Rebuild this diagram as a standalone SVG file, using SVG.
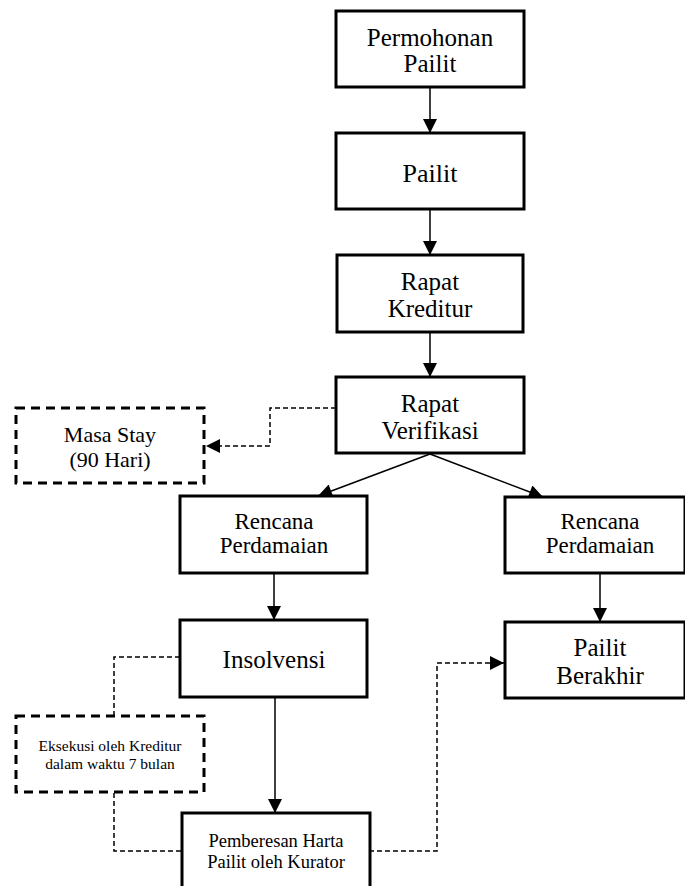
<svg xmlns="http://www.w3.org/2000/svg" width="685" height="886" viewBox="0 0 685 886">
<style>
.box{fill:#fff;stroke:#000;stroke-width:3}
.dbox{fill:#fff;stroke:#000;stroke-width:3;stroke-dasharray:9 6}
.t{font-family:"Liberation Serif","Times New Roman",serif;fill:#000;text-anchor:middle}
.c{fill:none;stroke:#000;stroke-width:1.5}
.d{fill:none;stroke:#000;stroke-width:1.5;stroke-dasharray:5 3}
</style>
<defs>
<marker id="ah" viewBox="0 0 10 10" refX="10" refY="5" markerWidth="15" markerHeight="14" markerUnits="userSpaceOnUse" orient="auto">
<path d="M0,0 L10,5 L0,10 z" fill="#000"/>
</marker>
</defs>
<g id="connectors">
<line class="c" x1="430" y1="87" x2="430" y2="133" marker-end="url(#ah)"/>
<line class="c" x1="430" y1="209" x2="430" y2="255" marker-end="url(#ah)"/>
<line class="c" x1="430" y1="332" x2="430" y2="377" marker-end="url(#ah)"/>
<line class="c" x1="430" y1="454" x2="318" y2="496" marker-end="url(#ah)"/>
<line class="c" x1="430" y1="454" x2="543" y2="497" marker-end="url(#ah)"/>
<line class="c" x1="274" y1="573" x2="274" y2="620" marker-end="url(#ah)"/>
<line class="c" x1="600" y1="574" x2="600" y2="622" marker-end="url(#ah)"/>
<line class="c" x1="275" y1="698" x2="275" y2="813" marker-end="url(#ah)"/>
<polyline class="d" points="336,408 270,408 270,446 206,446" marker-end="url(#ah)"/>
<polyline class="d" points="180,657 114,657 114,716"/>
<polyline class="d" points="114,793 114,851 181,851"/>
<polyline class="d" points="369,851 437,851 437,663 504,663" marker-end="url(#ah)"/>
</g>
<g id="permohonan">
<rect class="box" x="336" y="11" width="188" height="76"/>
<text class="t" x="430" y="46" font-size="25">Permohonan</text>
<text class="t" x="430" y="72" font-size="25">Pailit</text>
</g>
<g id="pailit">
<rect class="box" x="336" y="133" width="188" height="76"/>
<text class="t" x="430" y="182" font-size="26">Pailit</text>
</g>
<g id="rapat-kreditur">
<rect class="box" x="337" y="255" width="186" height="77"/>
<text class="t" x="430" y="290" font-size="25">Rapat</text>
<text class="t" x="430" y="317" font-size="25">Kreditur</text>
</g>
<g id="rapat-verifikasi">
<rect class="box" x="336" y="377" width="188" height="76"/>
<text class="t" x="430" y="412" font-size="25">Rapat</text>
<text class="t" x="430" y="439" font-size="25">Verifikasi</text>
</g>
<g id="masa-stay">
<rect class="dbox" x="16" y="408" width="188" height="75"/>
<text class="t" x="110" y="442" font-size="22">Masa Stay</text>
<text class="t" x="110" y="467" font-size="22">(90 Hari)</text>
</g>
<g id="rencana-kiri">
<rect class="box" x="180" y="496" width="187" height="77"/>
<text class="t" x="274" y="529" font-size="23">Rencana</text>
<text class="t" x="274" y="553" font-size="23">Perdamaian</text>
</g>
<g id="rencana-kanan">
<rect class="box" x="505" y="497" width="180" height="76"/>
<text class="t" x="600" y="529" font-size="23">Rencana</text>
<text class="t" x="600" y="553" font-size="23">Perdamaian</text>
</g>
<g id="insolvensi">
<rect class="box" x="180" y="620" width="187" height="77"/>
<text class="t" x="274" y="668" font-size="25">Insolvensi</text>
</g>
<g id="pailit-berakhir">
<rect class="box" x="505" y="622" width="180" height="76"/>
<text class="t" x="600" y="656" font-size="25">Pailit</text>
<text class="t" x="600" y="684" font-size="25">Berakhir</text>
</g>
<g id="eksekusi">
<rect class="dbox" x="16" y="716" width="188" height="76"/>
<text class="t" x="110" y="751" font-size="15.5">Eksekusi oleh Kreditur</text>
<text class="t" x="110" y="769" font-size="15.5">dalam waktu 7 bulan</text>
</g>
<g id="pemberesan">
<rect class="box" x="182" y="813" width="188" height="80"/>
<text class="t" x="276" y="847" font-size="18.5">Pemberesan Harta</text>
<text class="t" x="276" y="868" font-size="18.5">Pailit oleh Kurator</text>
</g>
</svg>
